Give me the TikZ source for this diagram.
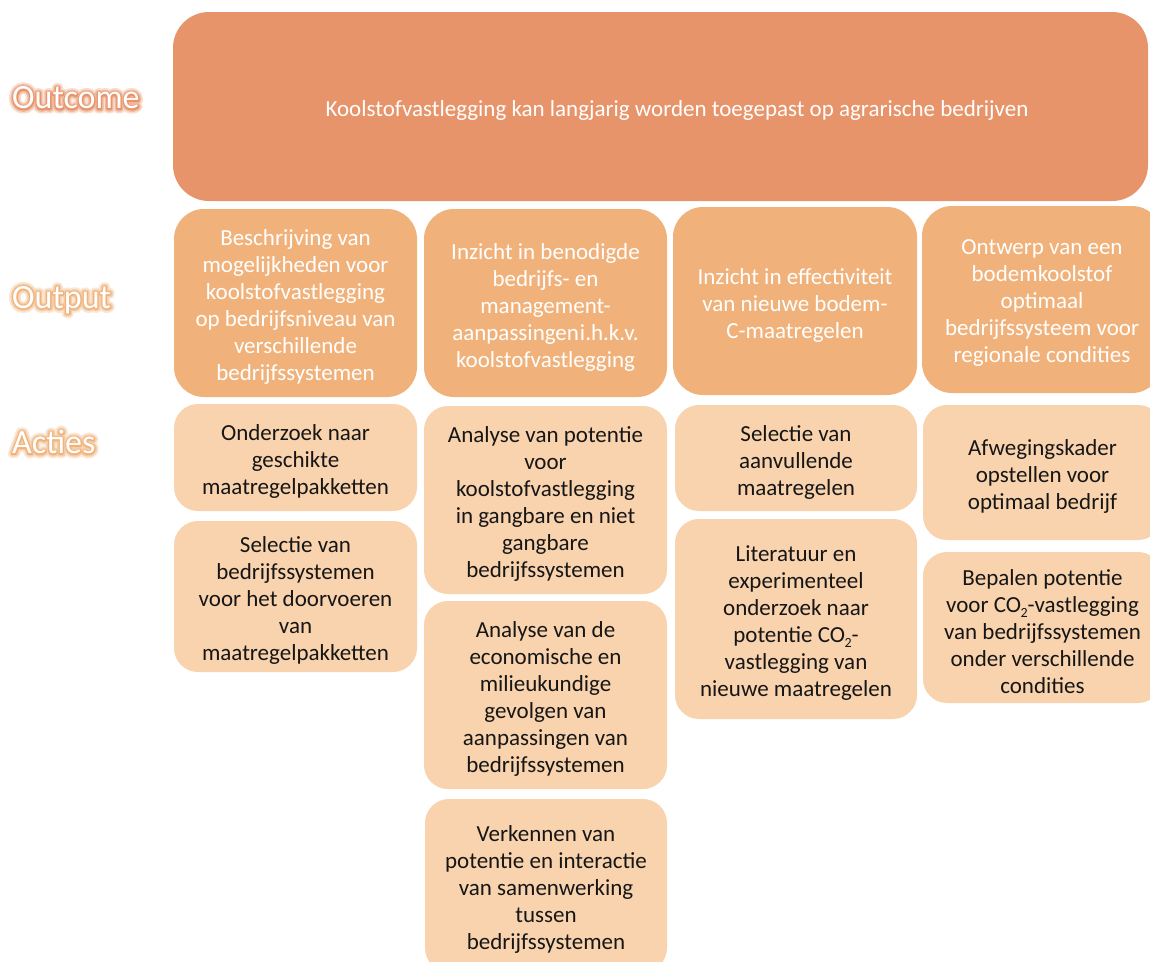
\documentclass[tikz,border=0pt]{standalone}
\usepackage{fontspec}
\setmainfont{Carlito}
\definecolor{outc}{RGB}{232,148,106}
\definecolor{outp}{RGB}{240,178,122}
\definecolor{act}{RGB}{248,211,173}
\definecolor{ink}{RGB}{22,22,22}
\tikzset{
  boxfont/.style={font=\fontsize{23}{27}\selectfont},
  basebox/.style={inner sep=0pt},
  outcomebox/.style={basebox, fill=outc, rounded corners=36pt},
  outputbox/.style={basebox, fill=outp, rounded corners=30pt},
  actbox/.style={basebox, fill=act, rounded corners=24pt},
  outputtext/.style={boxfont, align=center, inner sep=0pt, text=white},
  acttext/.style={boxfont, align=center, inner sep=0pt, text=ink},
  lbl/.style={inner sep=0pt, font=\fontsize{34}{38}\selectfont, anchor=west},
}
% box: name x1 y1 x2 y2 boxstyle textstyle text
\newcommand{\bx}[8]{%
  \node[#6, minimum width={(#4-#2)*1pt}, minimum height={(#5-#3)*1pt}] (#1) at ({(#2+#4)/2},{(#3+#5)/2}) {};
  \node[#7, yshift=-4pt] (#1t) at (#1.center) {#8};}
\newcommand{\strk}[2]{\special{pdf:literal direct 2 Tr #1 w 1 j}#2\special{pdf:literal direct 0 Tr}}
\newcommand{\glowlabel}[4]{% name y colour text
  \node[lbl, text=#3!30] (#1g1) at (12,#2) {\strk{9}{#4}};
  \node[lbl, text=#3!65] (#1g2) at (12,#2) {\strk{5.5}{#4}};
  \node[lbl, text=#3] (#1g3) at (12,#2) {\strk{2.6}{#4}};
  \node[lbl, text=white] (#1) at (12,#2) {#4};}
\newcommand{\cotwo}{CO\kern-0.5pt\raisebox{-0.22em}{\fontsize{14}{14}\selectfont 2}}
\begin{document}
\begin{tikzpicture}[x=1pt,y=-1pt]
\useasboundingbox (0,0) rectangle (1150,961);
\clip (0,0) rectangle (1150,961);
\fill[white] (0,0) rectangle (1150,961);

% labels
\glowlabel{loutcome}{98}{outc}{Outcome}
\glowlabel{loutput}{300}{outp}{Output}
\glowlabel{lacties}{442}{outp}{Acties}

% outcome
\node[outcomebox, minimum width=975pt, minimum height=189pt] (outcome) at (660.5,106.5) {};
\node[font=\fontsize{23}{27}\selectfont, text=white, inner sep=0pt] (outcometxt) at (677,110) {Koolstofvastlegging kan langjarig worden toegepast op agrarische bedrijven};

% outputs
\bx{o1}{174}{209}{417}{397}{outputbox}{outputtext}{Beschrijving van\\mogelijkheden voor\\koolstofvastlegging\\op bedrijfsniveau van\\verschillende\\bedrijfssystemen}
\bx{o2}{424}{209}{667}{397}{outputbox}{outputtext}{Inzicht in benodigde\\bedrijfs- en\\management-\\aanpassingen\hspace{1pt}i.h.k.v.\\koolstofvastlegging}
\bx{o3}{673}{207}{917}{395}{outputbox}{outputtext}{Inzicht in effectiviteit\\van nieuwe bodem-\\C-maatregelen}
\bx{o4}{922}{206}{1162}{393}{outputbox}{outputtext}{Ontwerp van een\\bodemkoolstof\\optimaal\\bedrijfssysteem voor\\regionale condities}

% acties column 1
\bx{a1}{174}{404}{417}{511}{actbox}{acttext}{Onderzoek naar\\geschikte\\maatregelpakketten}
\bx{a2}{174}{521}{417}{672}{actbox}{acttext}{Selectie van\\bedrijfssystemen\\voor het doorvoeren\\van\\maatregelpakketten}
% column 2
\bx{a3}{424}{406}{667}{594}{actbox}{acttext}{Analyse van potentie\\voor\\koolstofvastlegging\\in gangbare en niet\\gangbare\\bedrijfssystemen}
\bx{a4}{424}{601}{667}{789}{actbox}{acttext}{Analyse van de\\economische en\\milieukundige\\gevolgen van\\aanpassingen van\\bedrijfssystemen}
\bx{a5}{425}{799}{667}{972}{actbox}{acttext}{Verkennen van\\potentie en interactie\\van samenwerking\\tussen\\bedrijfssystemen}
% column 3
\bx{a6}{675}{405}{917}{511}{actbox}{acttext}{Selectie van\\aanvullende\\maatregelen}
\bx{a7}{675}{519}{917}{719}{actbox}{acttext}{Literatuur en\\experimenteel\\onderzoek naar\\potentie \cotwo-\\vastlegging van\\nieuwe maatregelen}
% column 4
\bx{a8}{923}{405}{1162}{540}{actbox}{acttext}{Afwegingskader\\opstellen voor\\optimaal bedrijf}
\bx{a9}{923}{552}{1162}{703}{actbox}{acttext}{Bepalen potentie\\voor \cotwo-vastlegging\\van bedrijfssystemen\\onder verschillende\\condities}
\end{tikzpicture}
\end{document}
